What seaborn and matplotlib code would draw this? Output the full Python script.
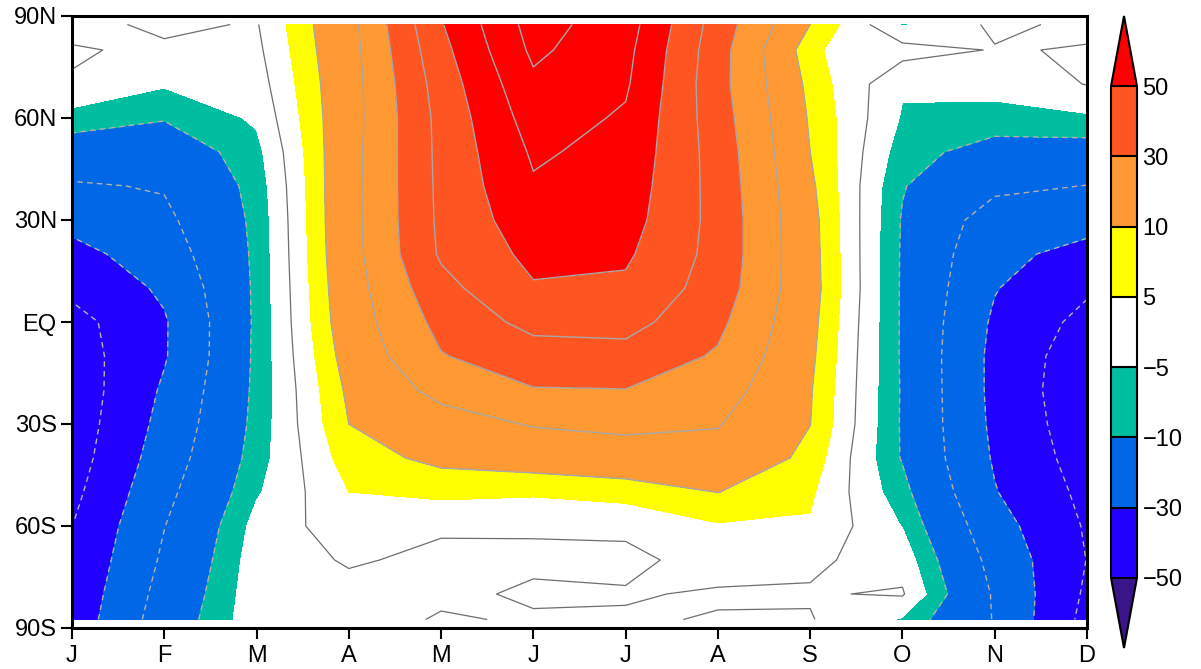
import numpy as np
import matplotlib
matplotlib.use("Agg")
import matplotlib.pyplot as plt
import seaborn as sns
from matplotlib.colors import ListedColormap, BoundaryNorm

sns.set_theme(style="white")
plt.rcParams['font.family'] = ['Liberation Sans', 'DejaVu Sans']

# month labels and latitudes (north to south)
months = ['J', 'F', 'M', 'A', 'M', 'J', 'J', 'A', 'S', 'O', 'N', 'D']
lats = [87.5, 80, 70, 60, 50, 40, 30, 20, 10, 0,
        -10, -20, -30, -40, -50, -60, -70, -80, -87.5]

# values per month column (north to south)
jan = [-1.5, 0.4, -0.3, -7.0, -13.8, -21.0, -27.0, -33.0, -37.5, -43.6,
       -45.0, -46.0, -45.5, -44.5, -42.5, -40.1, -38.5, -37.0, -36.0]
feb = [1.0, -0.8, -4.4, -9.5, -15.2, -19.3, -22.0, -25.0, -28.5, -30.9,
       -30.8, -28.7, -27.0, -25.0, -22.5, -20.2, -18.5, -16.5, -15.0]
mar = [-0.4, -1.2, -2.5, -4.2, -6.5, -7.8, -8.4, -8.6, -8.7, -8.7,
       -8.6, -8.4, -8.0, -7.2, -5.6, -3.2, -2.2, -1.8, -1.6]
apr = [16.5, 16.0, 15.5, 15.5, 16.0, 16.3, 16.3, 16.0, 15.3, 14.5,
       13.0, 11.2, 10.0, 7.6, 5.0, 2.8, 0.4, -1.2, -1.5]
may = [49.3, 47.0, 44.5, 43.0, 42.6, 42.3, 42.0, 41.3, 37.0, 33.0,
       29.5, 23.0, 15.8, 11.5, 6.4, 0.45, -0.8, -0.6, 0.3]
jun = [74.0, 72.0, 68.0, 64.5, 61.3, 59.0, 56.0, 52.5, 49.2, 43.0,
       35.5, 29.5, 20.7, 13.3, 5.8, 0.3, -0.5, 0.4, -0.3]
jul = [64.5, 62.8, 61.3, 58.8, 57.0, 55.5, 54.0, 51.5, 48.3, 43.5,
       36.5, 29.8, 22.5, 14.8, 7.0, 1.0, -1.2, 0.4, -0.5]
aug = [35.4, 34.0, 33.4, 34.5, 35.7, 36.3, 36.7, 36.6, 35.4, 32.3,
       28.9, 24.5, 20.5, 16.8, 10.1, 4.5, 2.0, -0.5, 0.3]
sep = [10.0, 5.5, 7.9, 9.1, 10.0, 11.2, 12.2, 12.5, 12.8, 12.0,
       11.3, 10.5, 10.1, 8.1, 5.8, 4.5, 0.8, -0.4, 0.3]
oct_ = [-5.5, 2.1, -4.4, -5.5, -7.5, -9.6, -10.5, -10.7, -10.8, -10.8,
        -10.8, -10.6, -10.7, -10.5, -8.0, -5.2, -2.0, 0.5, -5.5]
nov = [1.0, -0.3, -3.5, -6.5, -13.0, -18.0, -24.5, -27.5, -29.5, -31.5,
       -32.5, -32.5, -32.0, -31.0, -29.5, -26.0, -23.0, -21.0, -20.5]
dec = [-1.0, 0.3, 0.2, -5.8, -13.0, -20.2, -26.5, -33.0, -38.5, -43.0,
       -46.0, -47.0, -46.0, -44.5, -42.5, -41.0, -40.2, -41.5, -43.0]

levels = [-50, -30, -10, -5, 5, 10, 30, 50]
fill_colors = ['#3a1489', '#2200ff', '#0068e6', '#00bea0', '#ffffff',
               '#ffff00', '#ff9933', '#ff5522', '#ff0000']
neg_lines = [-60, -50, -40, -30, -20, -10]
pos_lines = [10, 20, 30, 40, 50, 60, 70]

grid = np.array([jan, feb, mar, apr, may, jun, jul, aug, sep, oct_, nov, dec]).T
x = np.arange(len(months))

cmap = ListedColormap(fill_colors[1:-1])
cmap.set_under(fill_colors[0])
cmap.set_over(fill_colors[-1])
norm = BoundaryNorm(levels, cmap.N)

fig = plt.figure(figsize=(12.01, 6.69), dpi=100)
ax = fig.add_axes([72 / 1201, 41 / 669, 1015 / 1201, 612 / 669])

cf = ax.contourf(x, lats, grid, levels=levels, cmap=cmap, norm=norm, extend='both')
ax.contour(x, lats, grid, levels=neg_lines, colors='#b8b0a8', linewidths=1.0,
           linestyles=[(0, (4, 3))])
ax.contour(x, lats, grid, levels=pos_lines, colors='#a8a8a8', linewidths=1.0,
           linestyles='solid')
ax.contour(x, lats, grid, levels=[0], colors='#6e6e6e', linewidths=0.9,
           linestyles='solid')

ax.set_xlim(0, 11)
ax.set_ylim(-90, 90)
ax.set_xticks(x)
ax.set_xticklabels(months)
ax.set_yticks([-90, -60, -30, 0, 30, 60, 90])
ax.set_yticklabels(['90S', '60S', '30S', 'EQ', '30N', '60N', '90N'])
ax.tick_params(axis='both', which='both', direction='out', length=8, width=1.5,
               color='black', labelsize=17, labelcolor='black')
ax.tick_params(axis='x', bottom=True, top=False, pad=4)
ax.tick_params(axis='y', left=True, right=False, pad=3)
ax.grid(False)
for sp in ax.spines.values():
    sp.set_visible(True)
    sp.set_color('black')
    sp.set_linewidth(2.2)

# colorbar
cax = fig.add_axes([1111 / 1201, 21 / 669, 26 / 1201, 632 / 669])
cb = fig.colorbar(cf, cax=cax, extendfrac='auto', drawedges=True, ticks=levels)
cb.ax.set_yticklabels([str(v).replace('-', '\u2212') for v in levels])
cb.ax.tick_params(length=0, labelsize=17, pad=4, labelcolor='black')
cb.outline.set_linewidth(1.5)
cb.outline.set_edgecolor('black')
cb.dividers.set_color('black')
cb.dividers.set_linewidth(1.5)

fig.savefig("out.png", dpi=100)
